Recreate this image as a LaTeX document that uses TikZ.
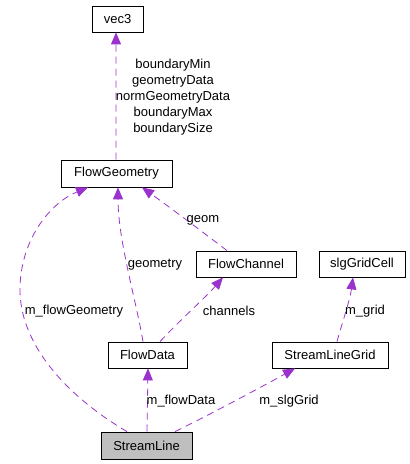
\documentclass[tikz,border=0pt]{standalone}
\usepackage{fontspec}
\setmainfont{Liberation Sans}
\usetikzlibrary{arrows.meta}
\definecolor{edgec}{HTML}{9A32CD}
\begin{document}
\begin{tikzpicture}[x=1bp,y=-1bp,
  cls/.style={draw=black,line width=0.8bp,fill=white,inner sep=0pt,font=\fontsize{13bp}{15bp}\selectfont},
  lbl/.style={font=\fontsize{13bp}{16bp}\selectfont,inner sep=0pt,align=center},
  rel/.style={draw=edgec,line width=0.8bp,dash pattern=on 7bp off 5bp,-{Triangle[width=10bp,length=12bp]}}]
\useasboundingbox (0,0) rectangle (409,464);
\node[cls,minimum width=51bp,minimum height=26bp] (vec3) at (117.5,19) {vec3};
\node[cls,minimum width=111bp,minimum height=27bp] (FG) at (116.5,173.5) {FlowGeometry};
\node[cls,minimum width=100bp,minimum height=26bp] (FC) at (246,264) {FlowChannel};
\node[cls,minimum width=86bp,minimum height=26bp] (SGC) at (362,264) {slgGridCell};
\node[cls,minimum width=79bp,minimum height=26bp] (FD) at (147.5,355) {FlowData};
\node[cls,minimum width=116bp,minimum height=26bp] (SLG) at (330,355) {StreamLineGrid};
\node[cls,minimum width=91bp,minimum height=27bp,fill={rgb,255:red,191;green,191;blue,191}] (SL) at (146.5,445.5) {StreamLine};

\draw[rel] ([xshift=-0.5bp]FG.north) -- ([xshift=-1.5bp]vec3.south);
\draw[rel] ([xshift=-19.5bp]SL.north) .. controls (60,392) and (20,340) .. (20,290) .. controls (20,240) and (50,203) .. ([xshift=-28.5bp]FG.south);
\draw[rel] ([xshift=-4.5bp]FD.north) .. controls (136,300) and (118,240) .. ([xshift=1.5bp]FG.south);
\draw[rel] ([xshift=-19bp]FC.north) .. controls (208,236) and (168,206) .. ([xshift=25.5bp]FG.south);
\draw[rel] ([xshift=12.5bp]FD.north) .. controls (180,320) and (205,298) .. ([xshift=-23bp]FC.south);
\draw[rel] ([xshift=0.5bp]SL.north) -- ([xshift=0.5bp]FD.south);
\draw[rel] ([xshift=28.5bp]SL.north) .. controls (215,412) and (265,385) .. ([xshift=-35bp]SLG.south);
\draw[rel] ([xshift=7bp]SLG.north) .. controls (343,320) and (350,300) .. ([xshift=-9bp]SGC.south);

\node[lbl] (l1) at (173,97) {boundaryMin\\geometryData\\normGeometryData\\boundaryMax\\boundarySize};
\node[lbl] (l2) at (203,220) {geom};
\node[lbl] (l3) at (155,265) {geometry};
\node[lbl] (l4) at (229,311) {channels};
\node[lbl] (l5) at (365,311) {m\_grid};
\node[lbl] (l6) at (74,311) {m\_flowGeometry};
\node[lbl] (l7) at (181,401) {m\_flowData};
\node[lbl] (l8) at (289,401) {m\_slgGrid};
\end{tikzpicture}
\end{document}
